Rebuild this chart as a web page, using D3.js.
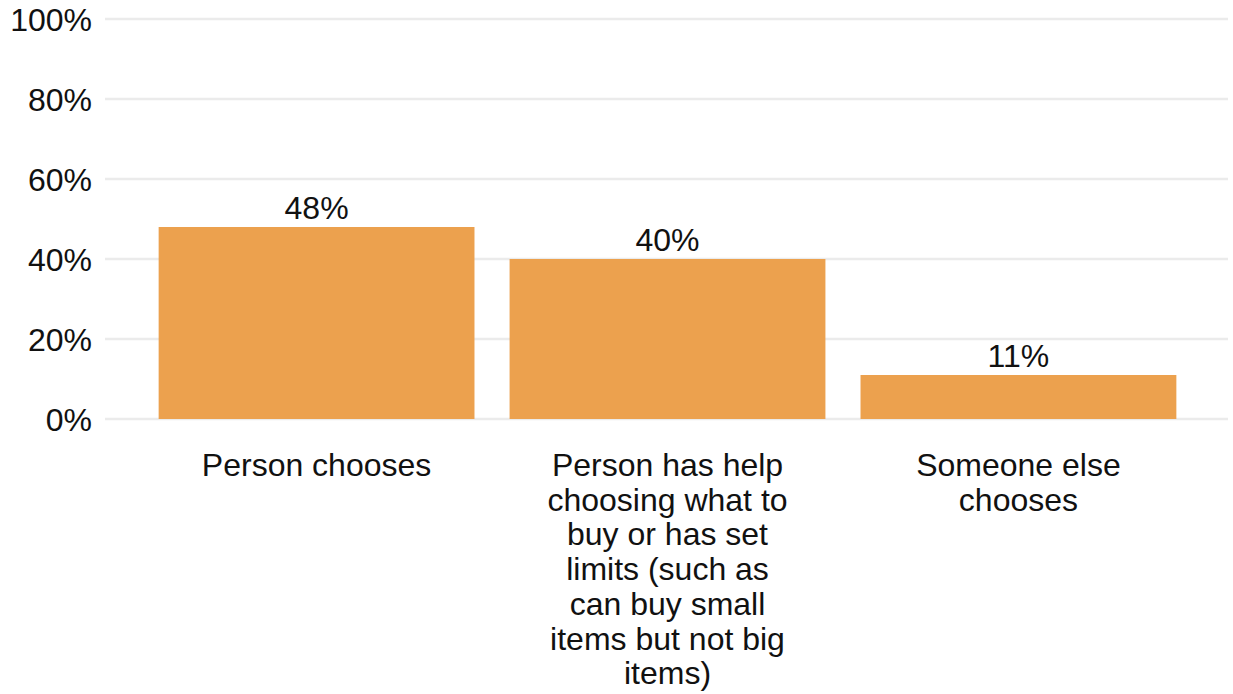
<!DOCTYPE html>
<html>
<head>
<meta charset="utf-8">
<script src="https://cdn.jsdelivr.net/npm/d3@7"></script>
<style>
  html, body { margin: 0; padding: 0; background: #fff; }
  svg text { font-family: "Liberation Sans", Arial, sans-serif; fill: #111; }
</style>
</head>
<body>
<svg id="chart" width="1233" height="694"></svg>
<script>
const categories = [
  "Person chooses",
  "Person has help choosing what to buy or has set limits (such as can buy small items but not big items)",
  "Someone else chooses"
];
const values = [48, 40, 11];
const valueLabels = ["48%", "40%", "11%"];
const yTicks = [0, 20, 40, 60, 80, 100];
const yTickLabels = ["0%", "20%", "40%", "60%", "80%", "100%"];

const svg = d3.select("#chart");
const W = 1233, H = 694;
const margin = { left: 105, right: 5, top: 19, bottom: 275 };
const FS = 32;

const x = d3.scaleBand()
  .domain(categories)
  .range([margin.left + 1, W - margin.right + 1])
  .paddingInner(0.1)
  .paddingOuter(0.15);

const y = d3.scaleLinear()
  .domain([0, 100])
  .range([H - margin.bottom, margin.top]);

// gridlines
svg.append("g").selectAll("line")
  .data(yTicks)
  .join("line")
  .attr("x1", margin.left)
  .attr("x2", W - margin.right)
  .attr("y1", d => y(d))
  .attr("y2", d => y(d))
  .attr("stroke", "#ebebeb")
  .attr("stroke-width", 2.5);

// y axis labels
const yAxis = d3.axisLeft(y)
  .tickValues(yTicks)
  .tickFormat((d, i) => yTickLabels[i])
  .tickSize(0)
  .tickPadding(13);
const gy = svg.append("g")
  .attr("transform", `translate(${margin.left},0)`)
  .call(yAxis);
gy.select(".domain").remove();
gy.selectAll("text")
  .attr("font-size", FS)
  .attr("font-family", "Liberation Sans, Arial, sans-serif")
  .attr("fill", "#111")
  .attr("dy", "0.36em");

// bars
svg.append("g").selectAll("rect")
  .data(values)
  .join("rect")
  .attr("x", (d, i) => x(categories[i]))
  .attr("width", x.bandwidth())
  .attr("y", d => y(d))
  .attr("height", d => y(0) - y(d))
  .attr("fill", "#eca14e");

// value labels
svg.append("g").selectAll("text")
  .data(values)
  .join("text")
  .attr("x", (d, i) => x(categories[i]) + x.bandwidth() / 2)
  .attr("y", d => y(d) - 8)
  .attr("text-anchor", "middle")
  .attr("font-size", FS)
  .text((d, i) => valueLabels[i]);

// x axis labels with wrapping
const xAxis = d3.axisBottom(x).tickSize(0).tickPadding(0);
const gx = svg.append("g")
  .attr("transform", `translate(0,${y(0)})`)
  .call(xAxis);
gx.select(".domain").remove();
const lineH = 34.7;
const wrapWidth = 255;
gx.selectAll(".tick text").each(function(d) {
  const t = d3.select(this);
  t.attr("font-size", FS)
   .attr("font-family", "Liberation Sans, Arial, sans-serif")
   .attr("fill", "#111")
   .attr("text-anchor", "middle")
   .attr("dy", null)
   .attr("y", 0);
  const words = d.split(/\s+/);
  t.text(null);
  let line = [];
  let lineNo = 0;
  let tspan = t.append("tspan").attr("x", 0).attr("y", 57);
  for (const w of words) {
    line.push(w);
    tspan.text(line.join(" "));
    if (tspan.node().getComputedTextLength() > wrapWidth && line.length > 1) {
      line.pop();
      tspan.text(line.join(" "));
      line = [w];
      lineNo++;
      tspan = t.append("tspan").attr("x", 0).attr("y", 57 + lineNo * lineH).text(w);
    }
  }
});
</script>
</body>
</html>
